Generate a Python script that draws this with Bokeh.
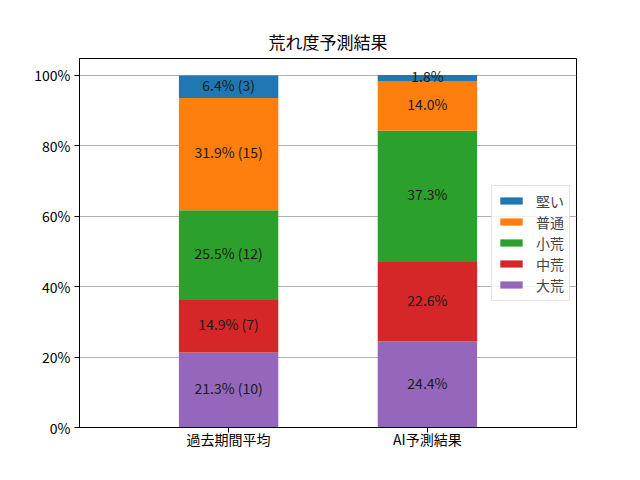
from bokeh.plotting import figure
from bokeh.models import ColumnDataSource, FixedTicker, Legend, LegendItem, Range1d
from bokeh.embed import file_html
from bokeh.resources import INLINE
from bokeh.core.properties import value

# ---- data ----
categories = ["過去期間平均", "AI予測結果"]
levels = ["大荒", "中荒", "小荒", "普通", "堅い"]          # stacking order (bottom -> top)
colors = ["#9467bd", "#d62728", "#2ca02c", "#ff7f0e", "#1f77b4"]
past_pct = [21.3, 14.9, 25.5, 31.9, 6.4]
past_counts = [10, 7, 12, 15, 3]
ai_pct = [24.4, 22.6, 37.3, 14.0, 1.8]
y_ticks = [0, 20, 40, 60, 80, 100]
y_tick_labels = ["0%", "20%", "40%", "60%", "80%", "100%"]
title_text = "荒れ度予測結果"

FONT = "Noto Sans CJK JP"

xs = list(range(len(categories)))
data = {"x": xs}
for i, lv in enumerate(levels):
    data[lv] = [past_pct[i], ai_pct[i]]
src = ColumnDataSource(data)

p = figure(width=632, height=472, output_backend="svg", toolbar_location=None,
           x_range=Range1d(-0.75, 1.75), y_range=Range1d(0, 104.8),
           min_border_left=79, min_border_right=56, min_border_top=58,
           min_border_bottom=45, title=title_text)

renderers = p.vbar_stack(levels, x="x", width=0.5, color=colors, line_color=None,
                         source=src)

# segment labels
lx, ly, lt = [], [], []
for ci, pcts in enumerate([past_pct, ai_pct]):
    base = 0.0
    for i, v in enumerate(pcts):
        lx.append(xs[ci])
        ly.append(base + v / 2.0)
        if ci == 0:
            lt.append(f"{v:.1f}% ({past_counts[i]})")
        else:
            lt.append(f"{v:.1f}%")
        base += v
p.text(x=lx, y=ly, text=lt, text_align="center", text_baseline="middle",
       text_font=value(FONT), text_font_size="14px", text_color="#1a1a1a",
       y_offset=-2)

# legend (reverse order, top = 堅い)
items = [LegendItem(label=levels[i], renderers=[renderers[i]])
         for i in reversed(range(len(levels)))]
legend = Legend(items=items, location="center_right")
legend.label_text_font = FONT
legend.label_text_font_size = "14px"
legend.glyph_width = 28
legend.glyph_height = 9
legend.label_height = 14
legend.spacing = 1
legend.padding = 5
legend.label_standoff = 11
legend.margin = 6
legend.border_line_color = "#cccccc"
legend.border_line_width = 1
legend.background_fill_alpha = 0.8
p.add_layout(legend)

# title
p.title.text_font = FONT
p.title.text_font_size = "17px"
p.title.text_font_style = "normal"
p.title.align = "center"
p.title.text_color = "black"

# axes
p.xaxis.ticker = FixedTicker(ticks=xs)
p.xaxis.major_label_overrides = {x: c for x, c in zip(xs, categories)}
p.yaxis.ticker = FixedTicker(ticks=y_ticks)
p.yaxis.major_label_overrides = {t: l for t, l in zip(y_ticks, y_tick_labels)}
for ax in (p.xaxis, p.yaxis):
    ax.major_label_text_font = FONT
    ax.major_label_text_font_size = "14px"
    ax.major_label_text_color = "black"
    ax.axis_line_color = "black"
    ax.axis_line_width = 1
    ax.major_tick_line_color = "black"
    ax.major_tick_out = 5
    ax.major_tick_in = 0
    ax.minor_tick_line_color = None
    ax.major_label_standoff = 4
p.xaxis.major_label_standoff = -4

p.xgrid.grid_line_color = None
p.ygrid.ticker = FixedTicker(ticks=y_ticks)
p.ygrid.grid_line_color = "#b0b0b0"
p.ygrid.grid_line_width = 1

p.outline_line_color = "black"
p.outline_line_width = 1
p.background_fill_color = "white"
p.border_fill_color = "white"

open("out.html", "w").write(file_html(p, INLINE))
